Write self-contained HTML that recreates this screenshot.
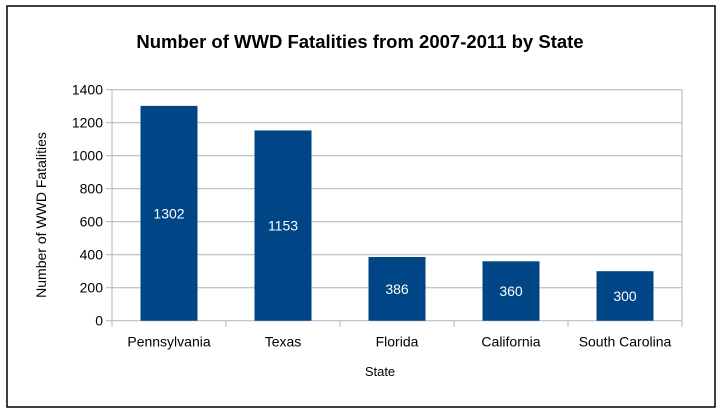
<!DOCTYPE html>
<html><head><meta charset="utf-8"><style>
body{margin:0;background:#fff;}
svg{display:block;font-family:"Liberation Sans",Arial,sans-serif;}
</style></head><body>
<svg id="chart" width="723" height="418">
<rect x="7" y="6" width="708" height="401" fill="#fff" stroke="#000" stroke-width="1.5"/>
<text x="360" y="48" text-anchor="middle" font-size="18.5" font-weight="bold">Number of WWD Fatalities from 2007-2011 by State</text>
<text x="380" y="376" text-anchor="middle" font-size="13">State</text>
<text transform="translate(46,215) rotate(-90)" text-anchor="middle" font-size="14">Number of WWD Fatalities</text>
<g id="grid"></g><g id="bars"></g><g id="axes"></g>
</svg>
<script>
const categories=["Pennsylvania","Texas","Florida","California","South Carolina"];
const values=[1302,1153,386,360,300];
const yTicks=[0,200,400,600,800,1000,1200,1400];
const L=112,R=682,T=89.7,B=320.7,yMax=1400;
const ns="http://www.w3.org/2000/svg";
const y=v=>B-(v/yMax)*(B-T);
const bw=(R-L)/categories.length;
const x=i=>L+i*bw;
function mk(tag,attrs,parent,text){const e=document.createElementNS(ns,tag);for(const k in attrs)e.setAttribute(k,attrs[k]);if(text!==undefined)e.textContent=text;document.getElementById(parent).appendChild(e);return e;}
yTicks.forEach(t=>{
 const g=mk("line",{x1:L,x2:R,y1:y(t),y2:y(t),stroke:"#b3b3b3","stroke-width":1},"grid");
 
 
 const tk=mk("line",{x1:L-6,x2:L,y1:y(t),y2:y(t),stroke:"#b3b3b3"},"axes");
 
 
 const lb=mk("text",{x:L-9,y:y(t)+5,"text-anchor":"end","font-size":14},"axes",t);
 
 
});
const rl=mk("line",{x1:R,x2:R,y1:T,y2:B,stroke:"#b3b3b3"},"grid");


const al=mk("line",{x1:L,x2:L,y1:T,y2:B+6,stroke:"#b3b3b3"},"axes");


for(let i=1;i<=categories.length;i++){
 const tk=mk("line",{x1:x(i),x2:x(i),y1:B,y2:B+6,stroke:"#b3b3b3"},"axes");
 
 
}
categories.forEach((c,i)=>{
 const cx=x(i)+bw/2,w=bw*0.5;
 const r=mk("rect",{x:cx-w/2,y:y(values[i]),width:w,height:B-y(values[i]),fill:"#004586"},"bars");
 
 
 const vl=mk("text",{x:cx,y:(y(values[i])+B)/2+5,"text-anchor":"middle","font-size":14,fill:"#fff"},"bars",values[i]);
 
 
 const cl=mk("text",{x:cx,y:B+26,"text-anchor":"middle","font-size":14},"axes",c);
 
 
});
</script>
</body></html>
